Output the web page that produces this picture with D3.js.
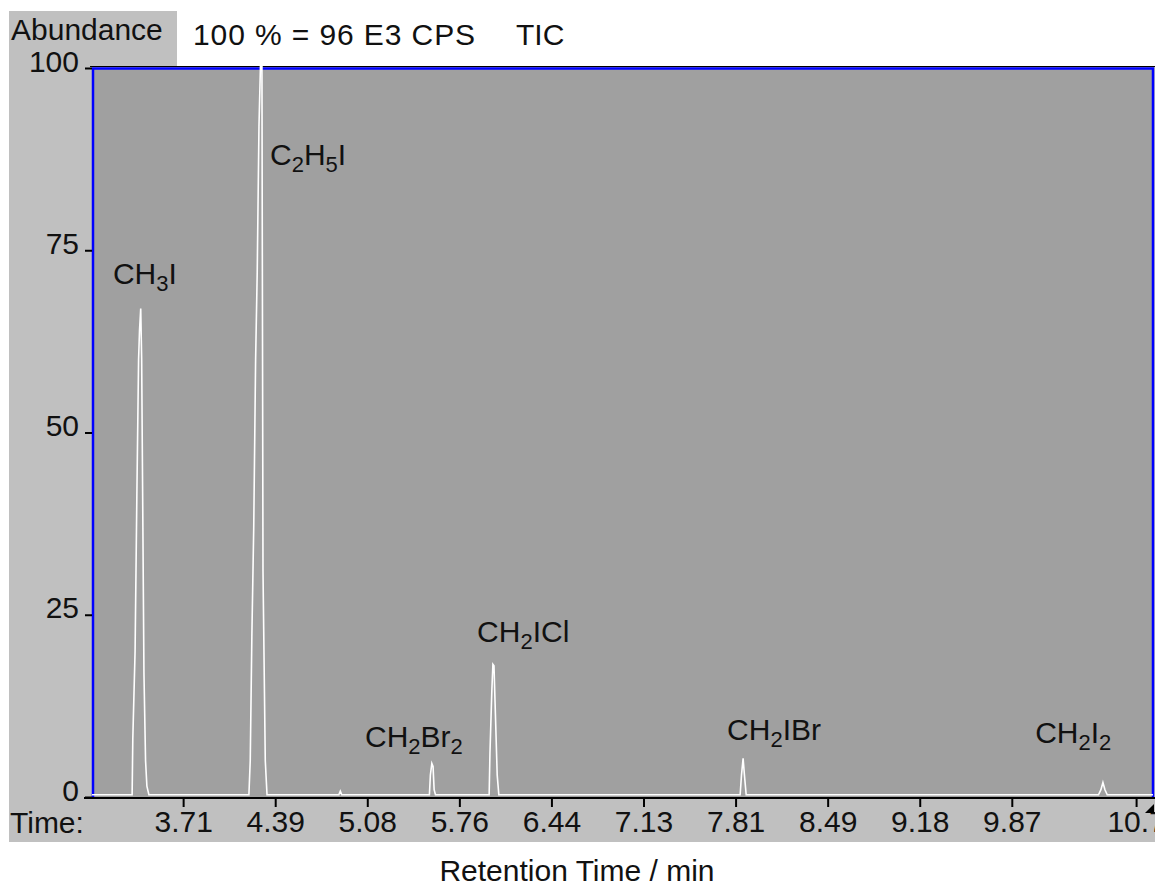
<!DOCTYPE html>
<html>
<head>
<meta charset="utf-8">
<script src="https://cdn.jsdelivr.net/npm/d3@7"></script>
<style>
  body { margin: 0; background: #ffffff; }
  svg text { font-family: "Liberation Sans", Arial, sans-serif; fill: #111; }
</style>
</head>
<body>
<div id="chart"></div>
<script>
// retention time (min) and abundance (%) of the TIC trace
var traceTime = [3.031, 3.330, 3.335, 3.352, 3.365, 3.378, 3.385, 3.394, 3.401, 3.418, 3.430, 3.440, 3.455,
    4.200, 4.210, 4.222, 4.236, 4.250, 4.262, 4.275, 4.287, 4.297, 4.305, 4.322, 4.335,
    4.870, 4.881, 4.892,
    5.545, 5.552, 5.563, 5.572, 5.580, 5.590,
    5.990, 5.996, 6.010, 6.018, 6.026, 6.034, 6.050, 6.062,
    7.860, 7.870, 7.882, 7.892, 7.905,
    10.530, 10.548, 10.563, 10.578, 10.595, 10.936];
var traceAbund = [0.3, 0.3, 8, 20, 41, 60, 64, 67, 60, 17, 5, 1.5, 0.3,
    0.3, 5, 22, 37, 60, 72, 92, 101, 101, 31, 5, 0.3,
    0.3, 0.8, 0.3,
    0.3, 3, 4.6, 4.2, 1, 0.3,
    0.3, 6, 14.6, 18.2, 18, 13, 3, 0.3,
    0.3, 3, 5.3, 3, 0.3,
    0.3, 1, 2, 1, 0.3, 0.3];

// compound labels: [text, subscript] parts, anchor time and abundance
var peakNames = [
    [["CH", ""], ["3", "sub"], ["I", ""]],
    [["C", ""], ["2", "sub"], ["H", ""], ["5", "sub"], ["I", ""]],
    [["CH", ""], ["2", "sub"], ["Br", ""], ["2", "sub"]],
    [["CH", ""], ["2", "sub"], ["ICl", ""]],
    [["CH", ""], ["2", "sub"], ["IBr", ""]],
    [["CH", ""], ["2", "sub"], ["I", ""], ["2", "sub"]]
];
var peakLabelTime = [3.187, 4.357, 5.065, 5.900, 7.763, 10.058];
var peakLabelAbund = [70.4, 86.7, 6.9, 21.2, 7.8, 7.4];

var yTicks = [0, 25, 50, 75, 100];
var timeTicks = [3.71, 4.396, 5.082, 5.768, 6.454, 7.14, 7.826, 8.512, 9.198, 9.884, 10.81];
var timeLabels = ["3.71", "4.39", "5.08", "5.76", "6.44", "7.13", "7.81", "8.49", "9.18", "9.87", "10.7"];

var width = 1155, height = 886;
var plot = { left: 92, right: 1153, top: 68, bottom: 797 };

var svg = d3.select("#chart").append("svg")
    .attr("width", width)
    .attr("height", height);

var x = d3.scaleLinear().domain([3.031, 10.936]).range([plot.left, plot.right]);
var y = d3.scaleLinear().domain([0, 100]).range([plot.bottom, plot.top]);

// grey frame around plot
svg.append("rect").attr("x", 9).attr("y", 11).attr("width", 168).attr("height", 60).attr("fill", "#c0c0c0");
svg.append("rect").attr("x", 9).attr("y", 66).attr("width", width - 9).attr("height", 776).attr("fill", "#c0c0c0");

// plot area
svg.append("rect")
    .attr("x", plot.left).attr("y", plot.top)
    .attr("width", plot.right - plot.left).attr("height", plot.bottom - plot.top)
    .attr("fill", "#a0a0a0");

// blue border (top, left, right)
svg.append("line").attr("x1", plot.left - 2).attr("x2", width).attr("y1", plot.top - 1.5).attr("y2", plot.top - 1.5)
    .attr("stroke", "#000").attr("stroke-width", 1);
svg.append("path")
    .attr("d", "M" + (plot.left + 1) + "," + plot.bottom + "V" + (plot.top + 0.5) + "H" + plot.right + "V" + plot.bottom)
    .attr("fill", "none").attr("stroke", "#0000ff").attr("stroke-width", 2.5);

// trace
var line = d3.line()
    .x(function (d, i) { return x(traceTime[i]); })
    .y(function (d) { return y(d); });

svg.append("path")
    .datum(traceAbund)
    .attr("d", line)
    .attr("fill", "none")
    .attr("stroke", "#ffffff")
    .attr("stroke-width", 1.6);

// y axis
var yAxis = d3.axisLeft(y).tickValues(yTicks).tickSize(7).tickPadding(6);
var gy = svg.append("g").attr("transform", "translate(" + plot.left + ",0)").call(yAxis);
gy.select(".domain").remove();
gy.selectAll("line").attr("stroke", "#000").attr("stroke-width", 2);
gy.selectAll("text").style("font-size", "30px").attr("fill", "#111").attr("dy", "0.1em");

// x axis
var xAxis = d3.axisBottom(x).tickValues(timeTicks).tickSize(9).tickPadding(3)
    .tickFormat(function (d, i) { return timeLabels[i]; });
var gx = svg.append("g").attr("transform", "translate(0," + (plot.bottom + 1) + ")").call(xAxis);
gx.select(".domain").remove();
gx.selectAll("line").attr("stroke", "#000").attr("stroke-width", 2);
gx.selectAll("text").style("font-size", "30px").attr("fill", "#111").attr("dy", "0.72em");

svg.append("line")
    .attr("x1", 84).attr("x2", width)
    .attr("y1", plot.bottom + 1).attr("y2", plot.bottom + 1)
    .attr("stroke", "#000").attr("stroke-width", 2);

// little arrow at the end of the time axis
svg.append("path")
    .attr("d", "M1145,813L1154,804L1154,813Z")
    .attr("fill", "#000");

// header texts
svg.append("text").attr("x", 11).attr("y", 40).style("font-size", "30px").text("Abundance");
svg.append("text").attr("x", 193).attr("y", 45).style("font-size", "30px")
    .style("letter-spacing", "0.9px").text("100 % = 96 E3 CPS");
svg.append("text").attr("x", 516).attr("y", 45).style("font-size", "30px").text("TIC");
svg.append("text").attr("x", 10).attr("y", 833).style("font-size", "30px").text("Time:");
svg.append("text").attr("x", 577).attr("y", 881).attr("text-anchor", "middle")
    .style("font-size", "30px").text("Retention Time / min");

// peak labels
peakNames.forEach(function (parts, k) {
    var t = svg.append("text")
        .attr("x", x(peakLabelTime[k]))
        .attr("y", y(peakLabelAbund[k]))
        .style("font-size", "30px");
    parts.forEach(function (p, j) {
        var prev = j > 0 ? parts[j - 1][1] : "";
        var dy = 0;
        if (p[1] === "sub" && prev !== "sub") dy = 7;
        if (p[1] !== "sub" && prev === "sub") dy = -7;
        t.append("tspan")
            .attr("dy", dy)
            .style("font-size", p[1] === "sub" ? "22px" : "30px")
            .text(p[0]);
    });
});
</script>
</body>
</html>
